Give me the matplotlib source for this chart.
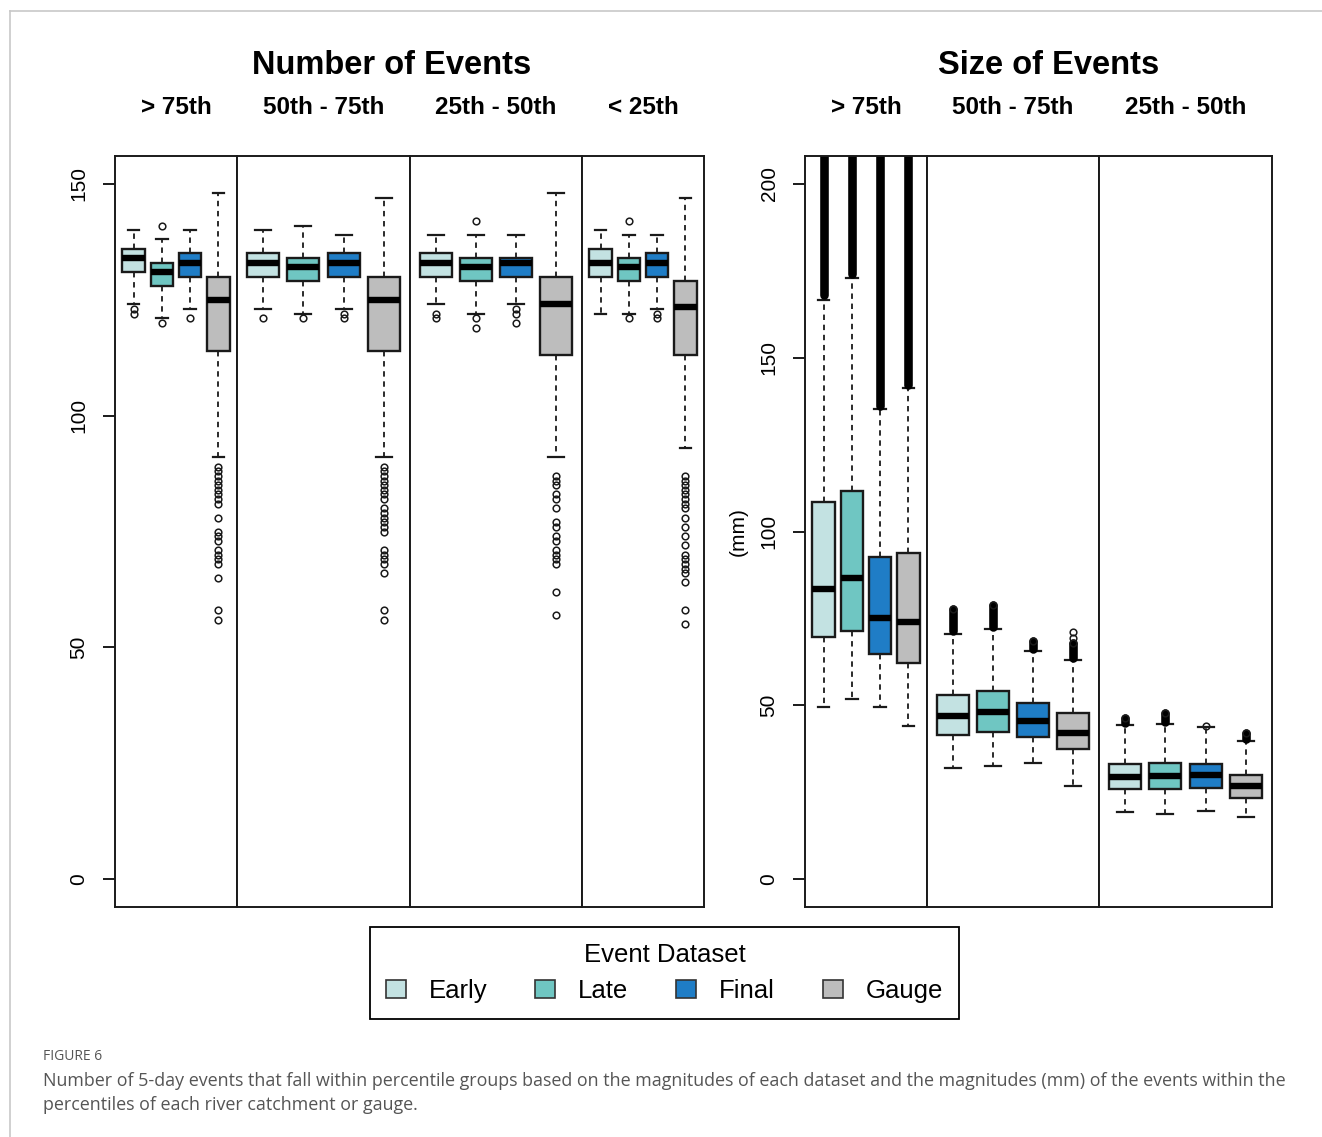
import matplotlib
matplotlib.use("Agg")
import matplotlib.pyplot as plt
from matplotlib.patches import Patch
from matplotlib.lines import Line2D

plt.rcParams['font.family'] = ['Liberation Sans', 'DejaVu Sans']

datasets = ['Early', 'Late', 'Final', 'Gauge']
colors = ['#c3e2e2', '#6fc6c2', '#1f7dc6', '#bdbdbd']

# ---- Number of Events: [whislo, q1, med, q3, whishi] per dataset ----
count_groups = ['> 75th', '50th - 75th', '25th - 50th', '< 25th']
count_stats = [
    [[124, 131, 134, 136, 140], [121, 128, 131, 133, 138], [123, 130, 133, 135, 140], [91, 114, 125, 130, 148]],
    [[123, 130, 133, 135, 140], [122, 129, 132, 134, 141], [123, 130, 133, 135, 139], [91, 114, 125, 130, 147]],
    [[124, 130, 133, 135, 139], [122, 129, 132, 134, 139], [124, 130, 133, 134, 139], [91, 113, 124, 130, 148]],
    [[122, 130, 133, 136, 140], [122, 129, 132, 134, 139], [123, 130, 133, 135, 139], [93, 113, 123.5, 129, 147]],
]
count_fliers = [
    [[123, 122], [141, 120], [121],
     [89, 88, 87, 86, 85, 84, 83, 82, 81, 78, 75, 74, 73, 71, 70, 69, 68, 65, 58, 56]],
    [[121], [121], [122, 121],
     [89, 88, 87, 86, 85, 84, 83, 82, 80, 79, 78, 77, 76, 75, 71, 70, 69, 68, 66, 58, 56]],
    [[122, 121], [142, 121, 119], [123, 122, 120],
     [87, 86, 85, 83, 82, 80, 77, 76, 74, 73, 71, 70, 69, 68, 62, 57]],
    [[], [142, 121], [122, 121],
     [87, 86, 85, 84, 83, 82, 81, 80, 78, 76, 74, 72, 70, 69, 68, 67, 66, 64, 58, 55]],
]

# ---- Size of Events (mm) ----
size_groups = ['> 75th', '50th - 75th', '25th - 50th']
size_stats = [
    [[49.5, 69.6, 83.6, 108.4, 166.7], [51.7, 71.4, 86.5, 111.6, 172.9],
     [49.5, 64.7, 75.2, 92.7, 135.1], [44.0, 62.1, 73.9, 93.7, 141.3]],
    [[31.9, 41.5, 46.9, 52.9, 70.6], [32.5, 42.2, 48.0, 54.1, 71.9],
     [33.4, 40.9, 45.5, 50.7, 65.6], [26.9, 37.5, 42.0, 47.7, 62.9]],
    [[19.3, 25.9, 29.5, 33.2, 44.3], [18.8, 26.0, 29.7, 33.5, 44.7],
     [19.6, 26.2, 29.9, 33.2, 43.8], [17.9, 23.4, 26.7, 29.9, 39.8]],
]
# dense outlier bands: lowest and highest outlier
size_out_lo = [[168.0, 174.0, 136.0, 142.0], [71.3, 72.6, 66.2, 63.6], [44.9, 45.3, 44.2, 40.4]]
size_out_hi = [[260.0, 260.0, 260.0, 260.0], [77.8, 79.0, 68.5, 68.0], [46.4, 47.9, 44.2, 42.1]]
size_fliers = [[[], [], [], []], [[], [], [], [69.4, 71.0]], [[], [], [], []]]

W, H = 1322, 1137


def fx(px):
    return px / W


def fy(py):
    return 1 - py / H


fig = plt.figure(figsize=(W / 100, H / 100), dpi=100)

EDGE = '#1a1a1a'


def draw_group(ax, stats, fliers, ylim):
    bx = []
    for s, f in zip(stats, fliers):
        bx.append(dict(whislo=s[0], q1=s[1], med=s[2], q3=s[3], whishi=s[4], fliers=f))
    res = ax.bxp(bx, positions=[1, 2, 3, 4], widths=0.8, patch_artist=True,
                 boxprops=dict(linewidth=1.7, edgecolor=EDGE),
                 medianprops=dict(color='black', linewidth=4.6, solid_capstyle='butt'),
                 whiskerprops=dict(color=EDGE, linewidth=1.3, linestyle=(0, (3, 2.6))),
                 capprops=dict(color=EDGE, linewidth=1.6),
                 flierprops=dict(marker='o', markerfacecolor='none', markeredgecolor=EDGE,
                                 markersize=4.8, markeredgewidth=1.1),
                 manage_ticks=False)
    for patch, c in zip(res['boxes'], colors):
        patch.set_facecolor(c)
    ax.set_xlim(0.34, 4.66)
    ax.set_ylim(*ylim)
    ax.set_xticks([])
    for sp in ax.spines.values():
        sp.set_linewidth(1.4)
        sp.set_color('#1a1a1a')


def make_block(edges, ylim, ticks, groups, stats, fliers, top_y=156, bottom_y=907):
    axes = []
    for i in range(len(groups)):
        x0, x1 = edges[i], edges[i + 1]
        ax = fig.add_axes([fx(x0), fy(bottom_y), (x1 - x0) / W, (bottom_y - top_y) / H])
        draw_group(ax, stats[i], fliers[i], ylim)
        if i == 0:
            ax.set_yticks(ticks)
            ax.set_yticklabels([str(t) for t in ticks], rotation=90, va='center', fontsize=15)
            ax.tick_params(axis='y', length=9, width=1.4, pad=10, color='#1a1a1a')
        else:
            ax.set_yticks([])
        fig.text(fx((x0 + x1) / 2), fy(107), groups[i], ha='center', va='center',
                 fontsize=17.5, fontweight='bold')
        axes.append(ax)
    return axes


left_edges = [115, 237, 410, 582, 704]
right_edges = [805, 927, 1099, 1272]

make_block(left_edges, (-6, 156), [0, 50, 100, 150], count_groups, count_stats, count_fliers)
r_axes = make_block(right_edges, (-8, 208), [0, 50, 100, 150, 200], size_groups, size_stats, size_fliers)

# dense outlier stacks drawn as solid bands of circles
for i, ax in enumerate(r_axes):
    for j in range(4):
        lo, hi = size_out_lo[i][j], size_out_hi[i][j]
        if hi > lo:
            ax.vlines(j + 1, lo, hi, color='black', linewidth=6.2, capstyle='round')
        ax.plot([j + 1], [hi], marker='o', markerfacecolor='none', markeredgecolor=EDGE,
                markersize=4.8, markeredgewidth=1.1)

fig.text(fx(392), fy(65), 'Number of Events', ha='center', va='center', fontsize=23.5, fontweight='bold')
fig.text(fx(1049), fy(65), 'Size of Events', ha='center', va='center', fontsize=23.5, fontweight='bold')
fig.text(fx(738), fy(532), '(mm)', ha='center', va='center', rotation=90, fontsize=15)

handles = [Patch(facecolor=c, edgecolor='#333333', linewidth=1.2, label=d) for c, d in zip(colors, datasets)]
leg = fig.legend(handles=handles, loc='center', bbox_to_anchor=(fx(664.5), fy(973)), ncol=4,
                 title='Event Dataset', fontsize=18.5, title_fontsize=18.5, frameon=True,
                 fancybox=False, edgecolor='black', framealpha=1, handlelength=0.78,
                 handleheight=0.7, handletextpad=0.9, columnspacing=1.85, borderpad=0.62)
leg.get_frame().set_linewidth(1.3)

# journal frame and caption
fig.add_artist(Line2D([fx(10), 1], [fy(11), fy(11)], color='#c8c8c8', linewidth=1.2))
fig.add_artist(Line2D([fx(10), fx(10)], [fy(11), 0], color='#c8c8c8', linewidth=1.2))

cap_font = ['Open Sans', 'DejaVu Sans']
fig.text(fx(43), fy(1057), 'FIGURE 6', ha='left', va='center', fontsize=10, color='#555555', family=cap_font)
fig.text(fx(43), fy(1081),
         'Number of 5-day events that fall within percentile groups based on the magnitudes of each dataset '
         'and the magnitudes (mm) of the events within the',
         ha='left', va='center', fontsize=12.85, color='#555555', family=cap_font)
fig.text(fx(43), fy(1105), 'percentiles of each river catchment or gauge.',
         ha='left', va='center', fontsize=12.85, color='#555555', family=cap_font)

fig.savefig('out.png', dpi=100)
